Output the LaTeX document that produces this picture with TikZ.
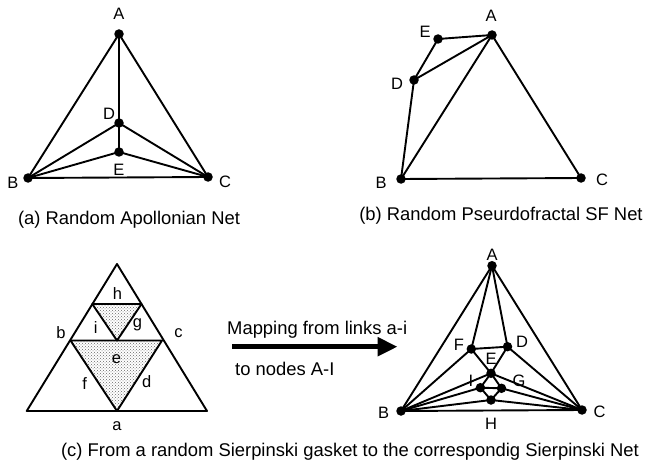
\documentclass[tikz,border=0pt]{standalone}
\usepackage{fontspec}
\setmainfont{Liberation Sans}
\usetikzlibrary{arrows.meta,patterns}
\begin{document}
\begin{tikzpicture}[x=1pt,y=-1pt,
  dot/.style={circle,fill=black,inner sep=0pt,minimum size=9.5pt},
  lbl/.style={inner sep=0pt,font=\fontsize{16.5}{16.5}\selectfont},
  glbl/.style={inner sep=0pt,font=\fontsize{16.5}{16.5}\selectfont},
  captxt/.style={inner sep=0pt,font=\fontsize{18.4}{18.4}\selectfont},
  txt/.style={inner sep=0pt,anchor=west,font=\fontsize{18.4}{18.4}\selectfont},
  ln/.style={line width=1.9pt,line cap=round,line join=round},
  shadefill/.style={pattern=crosshatch dots,pattern color=black!60}]
\useasboundingbox (0,0) rectangle (647,465);
% ---------- (a) Random Apollonian Net
\node[dot] (aA) at (119,34) {};
\node[dot] (aB) at (28,178) {};
\node[dot] (aC) at (208,177) {};
\node[dot] (aD) at (119,123) {};
\node[dot] (aE) at (119,152) {};
\draw[ln] (aA.center) -- (aB.center) -- (aC.center) -- cycle;
\draw[ln] (aA.center) -- (aD.center) -- (aE.center);
\draw[ln] (aB.center) -- (aD.center) -- (aC.center);
\draw[ln] (aB.center) -- (aE.center) -- (aC.center);
\node[lbl] (aAl) at (119,14) {A};
\node[lbl] (aBl) at (13,183) {B};
\node[lbl] (aCl) at (225,182) {C};
\node[lbl] (aDl) at (109,114) {D};
\node[lbl] (aEl) at (119,170) {E};
\node[captxt] (capa) at (129,220) {(a) Random Apollonian Net};
% ---------- (b) Random Pseudofractal SF Net
\node[dot] (bA) at (492,35) {};
\node[dot] (bB) at (401,179) {};
\node[dot] (bC) at (581,178) {};
\node[dot] (bD) at (414,80) {};
\node[dot] (bE) at (438,39) {};
\draw[ln] (bA.center) -- (bB.center) -- (bC.center) -- cycle;
\draw[ln] (bB.center) -- (bD.center) -- (bE.center) -- (bA.center) -- (bD.center);
\node[lbl] (bAl) at (491,16) {A};
\node[lbl] (bBl) at (381,183) {B};
\node[lbl] (bCl) at (602,180) {C};
\node[lbl] (bDl) at (397,84) {D};
\node[lbl] (bEl) at (425,32) {E};
\node[captxt] (capb) at (501,216) {(b) Random Pseurdofractal SF Net};
% ---------- (c) gasket
\coordinate (gT) at (117,264);
\coordinate (gL) at (26.7,411);
\coordinate (gR) at (207,411);
\coordinate (gML) at (70.5,340.5);
\coordinate (gMR) at (162,340.5);
\coordinate (gMB) at (117,411);
\coordinate (gSL) at (92.3,304);
\coordinate (gSR) at (141.5,304);
\coordinate (gSB) at (117,340.5);
\fill[shadefill] (gML) -- (gMR) -- (gMB) -- cycle;
\fill[shadefill] (gSL) -- (gSR) -- (gSB) -- cycle;
\draw[ln] (gT) -- (gL) -- (gR) -- cycle;
\draw[ln] (gML) -- (gMR) -- (gMB) -- cycle;
\draw[ln] (gSL) -- (gSR) -- (gSB) -- cycle;
\node[glbl] (gh) at (117.5,294) {h};
\node[glbl] (gi) at (95.8,328) {i};
\node[glbl] (gg) at (137.5,325) {g};
\node[glbl] (gb) at (61,333) {b};
\node[glbl] (gc) at (178.5,332.7) {c};
\node[glbl] (ge) at (116.5,359) {e};
\node[glbl] (gf) at (84.6,384) {f};
\node[glbl] (gd) at (146.6,381.7) {d};
\node[glbl] (ga) at (117,426) {a};
% ---------- arrow
\coordinate (arS) at (232.3,346.7);
\coordinate (arE) at (397.6,346.7);
\draw[line width=5pt,-{Triangle[length=20pt,width=18pt]}] (arS) -- (arE);
\node[txt] (t1) at (227,330) {Mapping from links a-i};
\node[txt] (t2) at (235,369) {to nodes A-I};
% ---------- Sierpinski net
\node[dot] (cA) at (492,265.7) {};
\node[dot] (cB) at (401,411) {};
\node[dot] (cC) at (582,410) {};
\node[dot] (cF) at (471.3,349) {};
\node[dot] (cD) at (507.5,346.7) {};
\node[dot] (cE) at (491,373.3) {};
\node[dot] (cI) at (480.4,387.7) {};
\node[dot] (cG) at (501.5,388.3) {};
\node[dot] (cH) at (491,400) {};
\draw[ln] (cA.center) -- (cB.center) -- (cC.center) -- cycle;
\draw[ln] (cA.center) -- (cF.center) -- (cD.center) -- (cA.center);
\draw[ln] (cB.center) -- (cF.center) -- (cE.center) -- (cD.center) -- (cC.center);
\draw[ln] (cB.center) -- (cE.center) -- (cC.center);
\draw[ln] (cE.center) -- (cI.center) -- (cG.center) -- (cE.center);
\draw[ln] (cI.center) -- (cH.center) -- (cG.center);
\draw[ln] (cB.center) -- (cI.center);
\draw[ln] (cB.center) -- (cH.center) -- (cC.center);
\draw[ln] (cG.center) -- (cC.center);
\node[lbl] (cAl) at (492,255) {A};
\node[lbl] (cBl) at (383.6,413) {B};
\node[lbl] (cCl) at (599.5,412) {C};
\node[lbl] (cFl) at (459,345) {F};
\node[lbl] (cDl) at (522,341.7) {D};
\node[lbl] (cEl) at (491,359) {E};
\node[lbl] (cIl) at (471,380.7) {I};
\node[lbl] (cGl) at (519,380.7) {G};
\node[lbl] (cHl) at (491,424) {H};
\node[captxt] (capc) at (350,451.7) {(c) From a random Sierpinski gasket to the correspondig Sierpinski Net};
\end{tikzpicture}
\end{document}
